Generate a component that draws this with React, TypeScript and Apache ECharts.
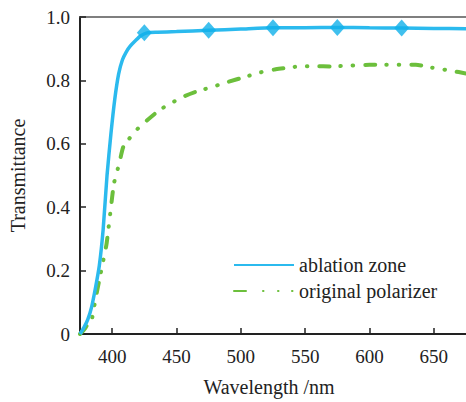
import React, { useEffect, useRef } from "react";
import * as echarts from "echarts";

const ablationWl = [375, 378, 381, 384, 387, 390, 393, 396, 399, 402, 405, 408, 411, 414, 418, 422, 427, 435, 450, 475, 500, 525, 550, 575, 600, 625, 650, 675];
const ablationT = [0.0, 0.02, 0.045, 0.085, 0.145, 0.215, 0.33, 0.5, 0.63, 0.74, 0.82, 0.865, 0.89, 0.908, 0.925, 0.94, 0.95, 0.952, 0.954, 0.958, 0.962, 0.966, 0.966, 0.967, 0.966, 0.965, 0.964, 0.963];

const markerWl = [425, 475, 525, 575, 625];
const markerT = [0.95, 0.958, 0.966, 0.967, 0.965];

const originalWl = [375, 378, 381, 384, 386, 388, 390.5, 393, 395.7, 398.8, 401.4, 405.5, 408.6, 413, 418, 424, 437, 448, 456, 465, 475, 490, 504, 515, 527, 543, 558, 570, 585, 600, 613, 636, 649, 664, 675];
const originalT = [0.0, 0.013, 0.03, 0.044, 0.086, 0.13, 0.18, 0.23, 0.286, 0.39, 0.475, 0.538, 0.59, 0.615, 0.64, 0.663, 0.707, 0.733, 0.75, 0.764, 0.776, 0.795, 0.812, 0.825, 0.835, 0.843, 0.845, 0.844, 0.847, 0.849, 0.849, 0.849, 0.84, 0.83, 0.822];

const xTicks = [400, 450, 500, 550, 600, 650];

const FONT = '"Liberation Serif", serif';
const FS = 19;
const FS_NAME = 20;
const BLUE = "#2bbaee";
const GREEN = "#6cbf3c";

export default function App() {
  const ref = useRef<HTMLDivElement>(null);
  useEffect(() => {
    if (!ref.current) return;
    const chart = echarts.init(ref.current, undefined, { renderer: "svg" });
    const axisColor = "#222";
    chart.setOption({
      animation: false,
      textStyle: { fontFamily: FONT },
      grid: { left: 80, right: 0, top: 17, bottom: 68, containLabel: false },
      legend: {
        orient: "vertical",
        left: 228,
        top: 250,
        itemWidth: 60,
        itemHeight: 14,
        itemGap: 6,
        itemTextGap: 6,
        itemStyle: { opacity: 0 },
        textStyle: { fontFamily: FONT, fontSize: FS_NAME, color: "#222" },
        data: [
          { name: "ablation zone" },
          {
            name: "original polarizer",
            lineStyle: { type: [12, 17, 0.5, 14.5, 0.5, 13.5, 0.5, 100], cap: "round" },
          },
        ],
      },
      xAxis: [
        {
          type: "value",
          min: 375,
          max: 675,
          interval: 25,
          name: "Wavelength /nm",
          nameLocation: "middle",
          nameGap: 43,
          nameTextStyle: { fontFamily: FONT, fontSize: FS_NAME, color: "#222", padding: [0, 8, 0, 0] },
          axisLine: { lineStyle: { color: axisColor, width: 2 } },
          axisTick: {
            inside: true,
            length: 6,
            lineStyle: { color: axisColor, width: 1.5 },
            customValues: xTicks,
          },
          axisLabel: {
            margin: 13,
            fontFamily: FONT,
            fontSize: FS,
            color: "#222",
            customValues: xTicks,
          },
          splitLine: { show: false },
        },
        {
          type: "value",
          position: "top",
          min: 375,
          max: 675,
          interval: 25,
          axisLine: { lineStyle: { color: "#555", width: 1.5 } },
          axisTick: { show: false },
          axisLabel: { show: false },
          splitLine: { show: false },
        },
      ],
      yAxis: {
        type: "value",
        min: 0,
        max: 1,
        interval: 0.2,
        name: "Transmittance",
        nameLocation: "middle",
        nameGap: 52,
        nameTextStyle: { fontFamily: FONT, fontSize: FS_NAME, color: "#222" },
        axisLine: { show: true, lineStyle: { color: axisColor, width: 2 } },
        axisTick: { show: true, inside: true, length: 6, lineStyle: { color: axisColor, width: 1.5 } },
        axisLabel: {
          margin: 10,
          fontFamily: FONT,
          fontSize: FS,
          color: "#222",
          formatter: (v: number) => (v === 0 ? "0" : v.toFixed(1)),
        },
        splitLine: { show: false },
      },
      series: [
        {
          name: "ablation zone",
          type: "line",
          data: ablationWl.map((w, i) => [w, ablationT[i]]),
          symbol: "none",
          smooth: 0.2,
          lineStyle: { color: BLUE, width: 3.5 },
          itemStyle: { color: BLUE },
          z: 3,
        },
        {
          name: "ablation markers",
          type: "scatter",
          data: markerWl.map((w, i) => [w, markerT[i]]),
          symbol: "diamond",
          symbolSize: [15, 17],
          itemStyle: { color: "#10b0ea" },
          z: 4,
        },
        {
          name: "original polarizer",
          type: "line",
          data: originalWl.map((w, i) => [w, originalT[i]]),
          symbol: "none",
          smooth: 0.2,
          lineStyle: { color: GREEN, width: 4, type: [10, 11, 0.5, 12, 0.5, 12], cap: "round" },
          itemStyle: { color: GREEN },
          z: 2,
        },
      ],
    });
    return () => chart.dispose();
  }, []);
  return <div ref={ref} style={{ width: 466, height: 402, position: "absolute", left: 0, top: 0 }} />;
}
